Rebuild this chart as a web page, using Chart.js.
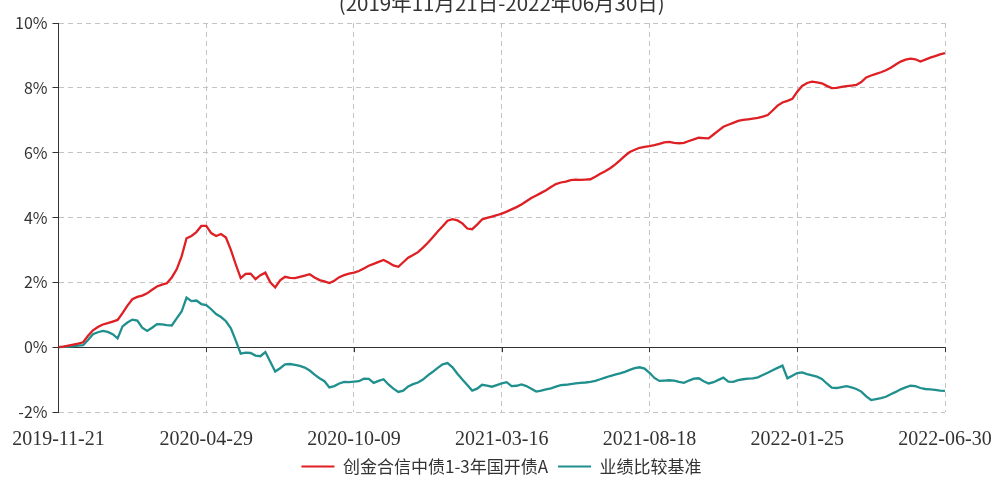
<!DOCTYPE html>
<html>
<head>
<meta charset="utf-8">
<script src="https://cdn.jsdelivr.net/npm/chart.js@4.4.0/dist/chart.umd.min.js"></script>
<style>
html,body{margin:0;padding:0;background:#fff;}
#wrap{width:993px;height:480px;}
</style>
</head>
<body>
<div id="wrap"><canvas id="c" width="993" height="480"></canvas></div>
<script>
const titleText = "(2019年11月21日-2022年06月30日)";
const tickLabels = ["2019-11-21","2020-04-29","2020-10-09","2021-03-16","2021-08-18","2022-01-25","2022-06-30"];
const seriesNames = ["创金合信中债1-3年国开债A","业绩比较基准"];
const fundValues = [
0.00,0.02,0.05,0.08,0.11,0.15,0.35,0.52,0.62,0.70,
0.74,0.79,0.84,1.05,1.28,1.48,1.55,1.59,1.66,1.77,
1.87,1.93,1.97,2.15,2.40,2.80,3.36,3.43,3.55,3.74,
3.74,3.52,3.43,3.49,3.38,3.00,2.55,2.13,2.26,2.27,
2.10,2.22,2.30,2.00,1.84,2.06,2.17,2.14,2.13,2.17,
2.21,2.25,2.15,2.07,2.03,1.98,2.05,2.16,2.22,2.27,
2.30,2.35,2.43,2.51,2.57,2.63,2.69,2.61,2.52,2.48,
2.62,2.76,2.84,2.93,3.07,3.22,3.39,3.57,3.73,3.90,
3.95,3.91,3.82,3.66,3.64,3.78,3.94,3.99,4.03,4.07,
4.12,4.18,4.25,4.32,4.40,4.50,4.60,4.68,4.76,4.84,
4.94,5.03,5.08,5.11,5.15,5.17,5.16,5.17,5.18,5.26,
5.35,5.43,5.52,5.63,5.76,5.90,6.02,6.09,6.15,6.18,
6.20,6.23,6.27,6.32,6.33,6.30,6.29,6.30,6.36,6.41,
6.46,6.45,6.44,6.56,6.68,6.80,6.86,6.92,6.98,7.01,
7.03,7.05,7.07,7.11,7.16,7.30,7.45,7.55,7.60,7.66,
7.88,8.06,8.15,8.19,8.17,8.14,8.06,7.99,8.00,8.03,
8.05,8.07,8.09,8.18,8.32,8.38,8.43,8.48,8.54,8.62,
8.72,8.81,8.87,8.90,8.88,8.81,8.87,8.93,8.98,9.03,
9.07];
const benchValues = [
0.00,0.01,0.02,0.03,0.05,0.06,0.22,0.40,0.46,0.50,
0.47,0.40,0.27,0.64,0.76,0.85,0.82,0.60,0.50,0.60,
0.71,0.70,0.68,0.67,0.89,1.10,1.53,1.42,1.44,1.33,
1.30,1.17,1.02,0.93,0.80,0.58,0.20,-0.20,-0.17,-0.18,
-0.26,-0.28,-0.15,-0.45,-0.75,-0.65,-0.53,-0.52,-0.55,-0.58,
-0.63,-0.72,-0.85,-0.96,-1.05,-1.24,-1.20,-1.12,-1.07,-1.08,
-1.06,-1.05,-0.97,-0.98,-1.10,-1.04,-0.99,-1.15,-1.28,-1.38,
-1.34,-1.21,-1.14,-1.09,-1.00,-0.87,-0.76,-0.64,-0.53,-0.49,
-0.62,-0.82,-1.00,-1.17,-1.34,-1.28,-1.16,-1.19,-1.22,-1.17,
-1.12,-1.08,-1.20,-1.19,-1.15,-1.20,-1.28,-1.37,-1.34,-1.30,
-1.27,-1.22,-1.17,-1.16,-1.14,-1.12,-1.10,-1.09,-1.07,-1.04,
-0.99,-0.94,-0.89,-0.85,-0.81,-0.76,-0.70,-0.65,-0.62,-0.66,
-0.79,-0.95,-1.04,-1.03,-1.02,-1.03,-1.07,-1.10,-1.03,-0.97,
-0.96,-1.05,-1.12,-1.08,-1.01,-0.94,-1.06,-1.07,-1.02,-0.99,
-0.97,-0.96,-0.93,-0.86,-0.79,-0.71,-0.64,-0.57,-0.96,-0.88,
-0.80,-0.78,-0.83,-0.87,-0.91,-0.98,-1.12,-1.25,-1.26,-1.23,
-1.20,-1.24,-1.29,-1.37,-1.52,-1.63,-1.60,-1.57,-1.53,-1.45,
-1.38,-1.30,-1.24,-1.19,-1.20,-1.26,-1.29,-1.30,-1.32,-1.34,
-1.35];
const yTicks = [-2,0,2,4,6,8,10];

const pointsPerTick = (fundValues.length - 1) / (tickLabels.length - 1);
const toXY = arr => arr.map((v, i) => ({x: i, y: v}));

const extras = {
  id: 'extras',
  beforeDatasetsDraw(chart) {
    const {ctx, scales: {x, y}} = chart;
    const y0 = y.getPixelForValue(0);
    ctx.save();
    ctx.strokeStyle = '#333';
    ctx.lineWidth = 1;
    x.ticks.forEach(t => {
      const px = Math.round(x.getPixelForValue(t.value)) + 0.5;
      ctx.beginPath();
      ctx.moveTo(px, y0);
      ctx.lineTo(px, y0 + 5);
      ctx.stroke();
    });
    ctx.restore();
  },
  afterDraw(chart) {
    const {ctx, chartArea} = chart;
    ctx.save();
    ctx.fillStyle = '#333';
    ctx.font = '20.5px "Noto Sans CJK SC"';
    ctx.textAlign = 'center';
    ctx.textBaseline = 'alphabetic';
    ctx.fillText(titleText, (chartArea.left + chartArea.right) / 2, 11);
    ctx.restore();
  }
};

new Chart(document.getElementById('c'), {
  type: 'line',
  data: {
    datasets: [
      {label: seriesNames[0], data: toXY(fundValues), borderColor: '#de1f24', backgroundColor: '#de1f24', borderWidth: 2.3, pointRadius: 0, tension: 0},
      {label: seriesNames[1], data: toXY(benchValues), borderColor: '#1f908d', backgroundColor: '#1f908d', borderWidth: 2.3, pointRadius: 0, tension: 0}
    ]
  },
  options: {
    responsive: false,
    animation: false,
    layout: {padding: {left: 10, top: 23, right: 0, bottom: -5}},
    plugins: {
      legend: {
        position: 'bottom',
        labels: {
          boxWidth: 33, boxHeight: 2, padding: 10,
          color: '#333',
          font: {family: '"Noto Sans CJK SC"', size: 17},
          generateLabels: chart => Chart.defaults.plugins.legend.labels.generateLabels(chart).map(l => Object.assign({}, l, {lineWidth: 0, fillStyle: l.strokeStyle}))
        }
      },
      tooltip: {enabled: false}
    },
    scales: {
      x: {
        type: 'linear', min: 0, max: fundValues.length - 1,
        afterBuildTicks: s => { s.ticks = tickLabels.map((_, k) => ({value: k * pointsPerTick})); },
        afterFit: s => { s.height = 36; s.paddingLeft = 0; s.paddingRight = 48; },
        ticks: {
          callback: (v) => tickLabels[Math.round(v / pointsPerTick)],
          color: '#333', font: {family: '"Liberation Serif"', size: 20, lineHeight: 1}, padding: 18, maxRotation: 0, autoSkip: false
        },
        grid: {color: '#c4c4c4', drawTicks: false, lineWidth: 1},
        border: {display: false, dash: [5, 4]}
      },
      y: {
        min: -2, max: 10,
        afterBuildTicks: s => { s.ticks = yTicks.map(v => ({value: v})); },
        ticks: {callback: v => v + '%', color: '#333', font: {family: '"Noto Sans CJK SC"', size: 16}, padding: 5},
        grid: {
          color: c => (c.tick && c.tick.value === 0) ? '#333' : '#c4c4c4',
          tickColor: '#333', tickLength: 6, tickBorderDash: [], lineWidth: 1
        },
        border: {display: true, color: '#333', width: 1, dash: c => (c.tick && c.tick.value === 0) ? [] : [5, 4]}
      }
    }
  },
  plugins: [extras]
});
</script>
</body>
</html>
